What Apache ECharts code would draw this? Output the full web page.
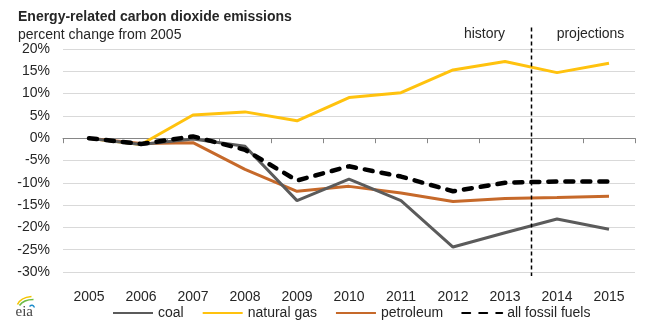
<!DOCTYPE html>
<html>
<head>
<meta charset="utf-8">
<script src="https://cdn.jsdelivr.net/npm/echarts@6/dist/echarts.min.js"></script>
<style>
  html, body { margin: 0; padding: 0; background: #fff; }
  #chart { width: 659px; height: 324px; }
</style>
</head>
<body>
<div id="chart"></div>
<script>
// Percent change in energy-related CO2 emissions relative to 2005
const years = ['2005', '2006', '2007', '2008', '2009', '2010', '2011', '2012', '2013', '2014', '2015'];
const coal = [0, -1.4, -0.2, -1.8, -14.0, -9.2, -14.0, -24.4, -21.2, -18.1, -20.4];
const naturalGas = [0, -1.4, 5.2, 5.9, 3.9, 9.1, 10.2, 15.3, 17.2, 14.7, 16.8];
const petroleum = [0, -1.2, -1.0, -7.0, -11.9, -10.8, -12.3, -14.2, -13.5, -13.3, -13.0];
const allFossilFuels = [0, -1.3, 0.4, -2.6, -9.5, -6.3, -8.6, -11.9, -10.0, -9.7, -9.7];

const yMin = -30, yMax = 20, yStep = 5;
// history ends after this year; projections start with the next one
const lastHistoryYear = '2013';

const FONT = '"Liberation Sans", Arial, sans-serif';
const TEXT = '#262626';

const chart = echarts.init(document.getElementById('chart'), null, { renderer: 'canvas' });

const option = {
  animation: false,
  backgroundColor: '#fff',
  textStyle: { fontFamily: FONT },
  title: {
    text: 'Energy-related carbon dioxide emissions',
    subtext: 'percent change from 2005',
    left: 13,
    top: 5,
    itemGap: 4,
    textStyle: { fontFamily: FONT, fontSize: 14, fontWeight: 'bold', color: TEXT },
    subtextStyle: { fontFamily: FONT, fontSize: 14, color: TEXT }
  },
  grid: { left: 63, right: 24, top: 49, bottom: 52, containLabel: false },
  legend: {
    data: ['coal', 'natural gas', 'petroleum', 'all fossil fuels'],
    left: 112,
    top: 306,
    padding: 0,
    itemWidth: 40,
    itemHeight: 14,
    itemGap: 18,
    // line-only keys, no point marker
    itemStyle: { opacity: 0 },
    textStyle: { fontFamily: FONT, fontSize: 14, color: TEXT }
  },
  xAxis: [
    {
      // zero baseline with tick marks between years
      type: 'category',
      data: years,
      boundaryGap: true,
      axisLine: { onZero: true, lineStyle: { color: '#868686', width: 1 } },
      axisTick: { show: true, length: 5, alignWithLabel: false, lineStyle: { color: '#868686' } },
      axisLabel: { show: false },
      splitLine: { show: false }
    },
    {
      // year labels along the bottom
      type: 'category',
      data: years,
      boundaryGap: true,
      position: 'bottom',
      axisLine: { show: false, onZero: false },
      axisTick: { show: false },
      axisLabel: { margin: 18, fontSize: 14, color: TEXT, fontFamily: FONT },
      splitLine: { show: false }
    }
  ],
  yAxis: {
    type: 'value',
    min: yMin,
    max: yMax,
    interval: yStep,
    axisLine: { show: false },
    axisTick: { show: false },
    axisLabel: { formatter: '{value}%', margin: 13, fontSize: 14, color: TEXT, fontFamily: FONT },
    splitLine: { lineStyle: { color: '#d9d9d9', width: 1 } }
  },
  series: [
    {
      name: 'natural gas', type: 'line', data: naturalGas, xAxisIndex: 0,
      symbol: 'none', z: 2,
      lineStyle: { color: '#ffc20e', width: 3 }, itemStyle: { color: '#ffc20e' }
    },
    {
      name: 'petroleum', type: 'line', data: petroleum, xAxisIndex: 0,
      symbol: 'none', z: 3,
      lineStyle: { color: '#c6692a', width: 3 }, itemStyle: { color: '#c6692a' }
    },
    {
      name: 'coal', type: 'line', data: coal, xAxisIndex: 0,
      symbol: 'none', z: 4,
      lineStyle: { color: '#5b5b5b', width: 3 }, itemStyle: { color: '#5b5b5b' }
    },
    {
      name: 'all fossil fuels', type: 'line', data: allFossilFuels, xAxisIndex: 0,
      symbol: 'none', z: 5,
      lineStyle: { color: '#000', width: 4.5, type: [8, 9], cap: 'round' },
      itemStyle: { color: '#000' }
    }
  ]
};

chart.setOption(option);

// Divider between history and projections, placed halfway between the two years
const i = years.indexOf(lastHistoryYear);
const xA = chart.convertToPixel({ xAxisIndex: 0 }, i);
const xB = chart.convertToPixel({ xAxisIndex: 0 }, i + 1);
const xDiv = Math.round((xA + xB) / 2) + 0.5;
const yTop = chart.convertToPixel({ yAxisIndex: 0 }, yMax + 4.8);
const yBot = chart.convertToPixel({ yAxisIndex: 0 }, yMin) + 4;
const yLabel = chart.convertToPixel({ yAxisIndex: 0 }, yMax + 3.3);

chart.setOption({
  graphic: [
    {
      type: 'line', z: 10, silent: true,
      shape: { x1: xDiv, y1: yTop, x2: xDiv, y2: yBot },
      style: { stroke: '#000', lineWidth: 1.5, lineDash: [4, 3] }
    },
    {
      type: 'text', z: 10, silent: true,
      style: { x: xDiv - 47, y: yLabel, text: 'history', fill: TEXT, font: '14px ' + FONT, textAlign: 'center', textVerticalAlign: 'middle' }
    },
    {
      type: 'text', z: 10, silent: true,
      style: { x: xDiv + 59, y: yLabel, text: 'projections', fill: TEXT, font: '14px ' + FONT, textAlign: 'center', textVerticalAlign: 'middle' }
    },
    // eia logo
    {
      type: 'group', left: 15, top: 294, silent: true,
      children: [
        { type: 'bezierCurve', shape: { x1: 5, y1: 11, cpx1: 8, cpy1: 4, x2: 19, y2: 3 }, style: { stroke: '#f5c400', lineWidth: 1.6, fill: null } },
        { type: 'bezierCurve', shape: { x1: 7, y1: 12, cpx1: 11, cpy1: 6, x2: 21, y2: 6 }, style: { stroke: '#6dbb45', lineWidth: 1.6, fill: null } },
        { type: 'bezierCurve', shape: { x1: 17, y1: 13, cpx1: 20, cpy1: 10, x2: 22, y2: 14 }, style: { stroke: '#1c8ccb', lineWidth: 1.4, fill: null } },
        { type: 'text', style: { x: 3, y: 19, text: 'eia', fill: '#444', font: '15px "Liberation Serif", "DejaVu Serif", serif', textVerticalAlign: 'middle' } }
      ]
    }
  ]
});
</script>
</body>
</html>
